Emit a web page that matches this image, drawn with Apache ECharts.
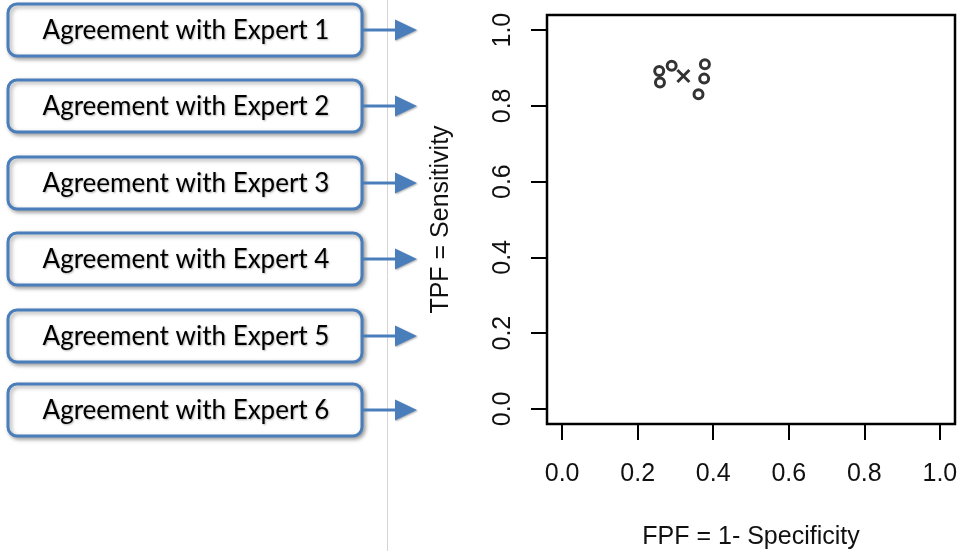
<!DOCTYPE html>
<html>
<head>
<meta charset="utf-8">
<script src="https://cdn.jsdelivr.net/npm/echarts@6/dist/echarts.min.js"></script>
<style>html,body{margin:0;padding:0;background:#fff}#c{width:962px;height:551px}</style>
</head>
<body>
<div id="c"></div>
<script>
const boxLabels = ['Agreement with Expert 1','Agreement with Expert 2','Agreement with Expert 3','Agreement with Expert 4','Agreement with Expert 5','Agreement with Expert 6'];
const tickValues = [0, 0.2, 0.4, 0.6, 0.8, 1.0];
// expert points (FPF, TPF)
const expertPoints = [[0.257,0.892],[0.259,0.862],[0.290,0.906],[0.378,0.910],[0.376,0.872],[0.361,0.831]];
// consensus / algorithm point
const crossPoint = [[0.321,0.879]];

const boxTops = [4, 80, 157, 233, 310, 384];
const boxH = 52, boxX = 8, boxW = 354;
const blue = '#4a7ebb';

const graphics = [];
graphics.push({type:'line', shape:{x1:387.5,y1:0,x2:387.5,y2:551}, style:{stroke:'#d4d4d4', lineWidth:1}, z:1});
boxTops.forEach((t,i)=>{
  const cy = t + boxH/2;
  graphics.push({type:'rect', shape:{x:boxX,y:t,width:boxW,height:boxH,r:9},
    style:{fill:'#fff', stroke:blue, lineWidth:3, shadowBlur:4, shadowOffsetX:2, shadowOffsetY:2, shadowColor:'rgba(0,0,0,0.35)'}, z:2});
  graphics.push({type:'text', x:boxX+boxW/2+1, y:cy+1, style:{text:boxLabels[i], font:'26px Lato', fill:'#000', align:'center', verticalAlign:'middle',
    textShadowBlur:2, textShadowColor:'rgba(0,0,0,0.3)', textShadowOffsetX:1, textShadowOffsetY:1}, z:3});
  graphics.push({type:'line', shape:{x1:boxX+boxW,y1:cy,x2:397,y2:cy}, style:{stroke:blue, lineWidth:3}, z:2});
  graphics.push({type:'polygon', shape:{points:[[395,cy-10.5],[417,cy],[395,cy+10.5]]}, style:{fill:blue, shadowBlur:2, shadowOffsetX:1, shadowOffsetY:1, shadowColor:'rgba(0,0,0,0.3)'}, z:2});
});

const fontAx = {fontFamily:'Liberation Sans', fontSize:25, color:'#111'};
const chart = echarts.init(document.getElementById('c'), null, {renderer:'canvas'});
chart.setOption({
  animation:false,
  grid:{left:547, right:7, top:15, bottom:127, show:true, borderColor:'#000', borderWidth:2.5, backgroundColor:'#fff',
    containLabel:false, outerBoundsMode:'none'},
  xAxis:{type:'value', min:-0.04, max:1.04, splitLine:{show:false}, axisLine:{show:false, onZero:false},
    axisTick:{show:true, customValues:tickValues, length:16, inside:false, lineStyle:{color:'#000', width:2}},
    axisLabel:Object.assign({customValues:tickValues, margin:38, formatter:v=>v.toFixed(1)}, fontAx),
    name:'FPF = 1- Specificity', nameLocation:'middle', nameGap:101, nameTextStyle:fontAx},
  yAxis:{type:'value', min:-0.04, max:1.04, splitLine:{show:false}, axisLine:{show:false, onZero:false},
    axisTick:{show:true, customValues:tickValues, length:16, inside:false, lineStyle:{color:'#000', width:2}},
    axisLabel:Object.assign({customValues:tickValues, margin:31, rotate:90, formatter:v=>v.toFixed(1)}, fontAx),
    name:'TPF = Sensitivity', nameLocation:'middle', nameGap:93, nameTextStyle:fontAx},
  graphic:graphics,
  series:[
    {type:'scatter', data:expertPoints, symbol:'circle', symbolSize:9,
      itemStyle:{color:'rgba(0,0,0,0)', borderColor:'#000', borderWidth:3}},
    {type:'scatter', data:crossPoint, symbol:'path://M0,0L10,10M10,0L0,10', symbolSize:12,
      itemStyle:{color:'rgba(0,0,0,0)', borderColor:'#000', borderWidth:3}}
  ]
});
</script>
</body>
</html>
